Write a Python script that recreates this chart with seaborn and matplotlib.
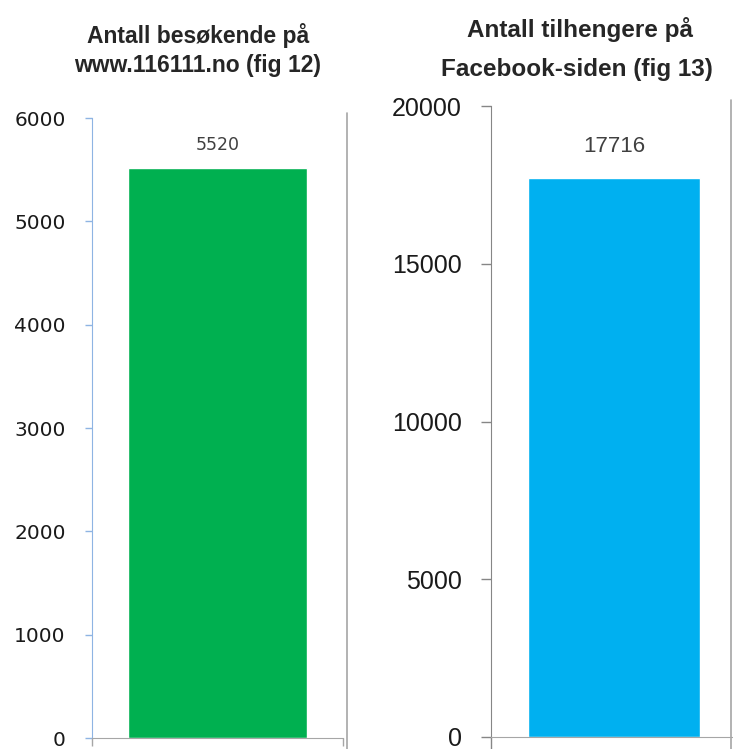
import matplotlib
matplotlib.use("Agg")
import matplotlib.pyplot as plt
from matplotlib.lines import Line2D
import seaborn as sns

# data
web_categories = ["www.116111.no"]
web_values = [5520]
web_yticks = [0, 1000, 2000, 3000, 4000, 5000, 6000]

fb_categories = ["Facebook"]
fb_values = [17716]
fb_yticks = [0, 5000, 10000, 15000, 20000]

sns.set_style("white")
plt.rcParams['font.family'] = ['DejaVu Sans']

SANS = ['Liberation Sans', 'DejaVu Sans']

W, H = 733, 749
fig = plt.figure(figsize=(W / 100, H / 100), dpi=100)


def px_box(x0, x1, ytop, ybot):
    return [x0 / W, 1 - ybot / H, (x1 - x0) / W, (ybot - ytop) / H]


# ---- left chart: visitors ----
ax1 = fig.add_axes(px_box(92, 343, 118, 738))
sns.barplot(x=web_categories, y=web_values, color='#00B050', saturation=1,
            width=0.713, ax=ax1)
ax1.set_xlim(-0.5, 0.5)
ax1.set_ylim(0, 6000)
ax1.set_yticks(web_yticks)
ax1.set_yticklabels([str(v) for v in web_yticks], fontsize=14.5, color='#1a1a1a')
ax1.set_xticks([-0.5, 0.5])
ax1.set_xticklabels(['', ''])
ax1.set_xlabel('')
ax1.set_ylabel('')
for s in ['top', 'right']:
    ax1.spines[s].set_visible(False)
ax1.spines['left'].set_color('#8EB4E3')
ax1.spines['bottom'].set_color('#A6A6A6')
ax1.tick_params(axis='y', direction='out', length=5, width=1, color='#8EB4E3', pad=14, left=True)
ax1.tick_params(axis='x', direction='out', length=6, width=1, color='#A6A6A6', bottom=True)
ax1.bar_label(ax1.containers[0], labels=[str(v) for v in web_values], padding=10,
              fontsize=12.5, color='#404040')

# ---- right chart: facebook followers ----
ax2 = fig.add_axes(px_box(491, 737, 106, 737))
sns.barplot(x=fb_categories, y=fb_values, color='#00B0F0', saturation=1,
            width=0.70, ax=ax2)
ax2.set_xlim(-0.5, 0.5)
ax2.set_ylim(0, 20000)
ax2.set_yticks(fb_yticks)
ax2.set_yticklabels([str(v) for v in fb_yticks], fontsize=18, color='#1a1a1a', family=SANS)
ax2.set_xticks([-0.5])
ax2.set_xticklabels([''])
ax2.set_xlabel('')
ax2.set_ylabel('')
for s in ['top', 'right']:
    ax2.spines[s].set_visible(False)
ax2.spines['left'].set_color('#868686')
ax2.spines['bottom'].set_color('#A6A6A6')
ax2.tick_params(axis='y', direction='out', length=7, width=1, color='#868686', pad=14, left=True)
ax2.tick_params(axis='x', direction='out', length=10, width=1, color='#868686', bottom=True)
ax2.bar_label(ax2.containers[0], labels=[str(v) for v in fb_values], padding=15,
              fontsize=16, color='#404040', family=SANS)

# titles
fig.text(198 / W, 1 - 43 / H, 'Antall besøkende på', ha='center', va='baseline',
         fontsize=16.5, fontweight='bold', family=SANS)
fig.text(198 / W, 1 - 72 / H, 'www.116111.no (fig 12)', ha='center', va='baseline',
         fontsize=16.5, fontweight='bold', family=SANS)
fig.text(580 / W, 1 - 37 / H, 'Antall tilhengere på', ha='center', va='baseline',
         fontsize=17.5, fontweight='bold', family=SANS)
fig.text(577 / W, 1 - 76 / H, 'Facebook-siden (fig 13)', ha='center', va='baseline',
         fontsize=17.5, fontweight='bold', family=SANS)

# chart frame edges
fig.add_artist(Line2D([347 / W, 347 / W], [1 - 113 / H, 0], color='#A6A6A6', lw=1.2))
fig.add_artist(Line2D([731 / W, 731 / W], [1 - 100 / H, 0], color='#A6A6A6', lw=1.2))

plt.savefig('out.png', dpi=100)
plt.close()
